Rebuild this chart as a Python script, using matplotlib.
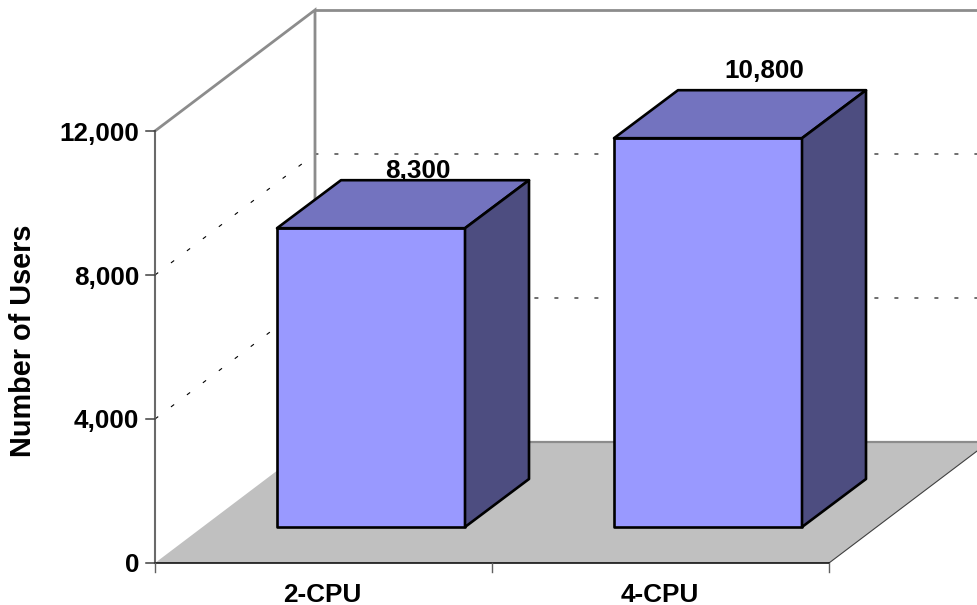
import matplotlib
matplotlib.use("Agg")
import matplotlib.pyplot as plt
from matplotlib.patches import Polygon

plt.rcParams['font.family'] = ['Liberation Sans', 'DejaVu Sans']

categories = ["2-CPU", "4-CPU"]
users = [8300, 10800]
value_labels = ["8,300", "10,800"]
y_ticks = [0, 4000, 8000, 12000]
y_tick_labels = ["0", "4,000", "8,000", "12,000"]
y_title = "Number of Users"

W, H = 977, 605
PX_X = 337.0       # px per category
PX_Y = 432 / 12000 # px per user
X0, Y0 = 155, 563  # pixel of origin

fig = plt.figure(figsize=(W / 100, H / 100), dpi=100, facecolor="white")
ax = fig.add_axes([0, 0, 1, 1])
ax.set_xlim(-X0 / PX_X, (W - X0) / PX_X)
ax.set_ylim(-(H - Y0) / PX_Y, Y0 / PX_Y)
ax.axis("off")

DX, DY = 160 / PX_X, 121 / PX_Y            # full depth
BX, BY = 47.5 / PX_X, 36 / PX_Y            # bar front offset
SX, SY = 64 / PX_X, 48 / PX_Y              # bar depth
LEFT_GAP, BAR_W = 74.5 / PX_X, 188 / PX_X
LABEL_DX = [15 / PX_X, 24 / PX_X]          # label shift from top-face centre
LABEL_DY = [12 / PX_Y, 22 / PX_Y]          # label centre above top-face back edge
n = len(categories)
top = y_ticks[-1]
FONT = 18.8

# floor
ax.add_patch(Polygon([(0, 0), (n, 0), (n + DX, DY), (DX, DY)], fc="#c0c0c0", ec="none", zorder=1))
ax.plot([n, n + DX], [0, DY], color="#404040", lw=0.8, zorder=1.5)

# gridlines
for v in y_ticks[1:-1]:
    ax.plot([0, DX, n + DX], [v, v + DY, v + DY], color="black", lw=0.8,
            linestyle=(0, (3.6, 14.4)), zorder=1.2)

# walls
grey = "#8c8c8c"
ax.plot([0, DX, DX], [top, top + DY, DY], color=grey, lw=2.0, zorder=1.3, solid_joinstyle="miter")
ax.plot([DX, n + DX], [top + DY, top + DY], color=grey, lw=2.0, zorder=1.3)
ax.plot([DX, n + DX], [DY, DY], color=grey, lw=1.6, zorder=1.3)

# bars
for i, (v, lab) in enumerate(zip(users, value_labels)):
    x0 = i + LEFT_GAP + BX
    x1 = x0 + BAR_W
    y0, y1 = BY, BY + v
    kw = dict(ec="black", lw=1.9, joinstyle="round", zorder=3)
    ax.add_patch(Polygon([(x0, y0), (x1, y0), (x1, y1), (x0, y1)], fc="#9999ff", **kw))
    ax.add_patch(Polygon([(x0, y1), (x1, y1), (x1 + SX, y1 + SY), (x0 + SX, y1 + SY)], fc="#7373bf", **kw))
    ax.add_patch(Polygon([(x1, y0), (x1 + SX, y0 + SY), (x1 + SX, y1 + SY), (x1, y1)], fc="#4d4d80", **kw))
    ax.text(x0 + BAR_W / 2 + SX / 2 + LABEL_DX[i], y1 + SY + LABEL_DY[i], lab, ha="center",
            va="center_baseline", fontsize=FONT, fontweight="bold", zorder=2)

# axes lines
ax.plot([0, 0], [0, top], color="#6a6a6a", lw=1.5, zorder=2)
ax.plot([0, n], [0, 0], color="black", lw=1.1, zorder=2)
for v, t in zip(y_ticks, y_tick_labels):
    ax.plot([-9 / PX_X, 0], [v, v], color="#404040", lw=1.1, zorder=2)
    ax.text(-15.5 / PX_X, v, t, ha="right", va="center_baseline", fontsize=FONT, fontweight="bold")
for i in range(n + 1):
    ax.plot([i, i], [0, -9 / PX_Y], color="#606060", lw=1.0, zorder=2)
for i, c in enumerate(categories):
    ax.text(i + 0.5 - 1 / PX_X, -30 / PX_Y, c, ha="center", va="center_baseline", fontsize=FONT, fontweight="bold")

ax.text(-132 / PX_X, 6166, y_title, rotation=90, ha="center", va="center",
        fontsize=20.8, fontweight="bold")

fig.savefig("out.png", dpi=100)
